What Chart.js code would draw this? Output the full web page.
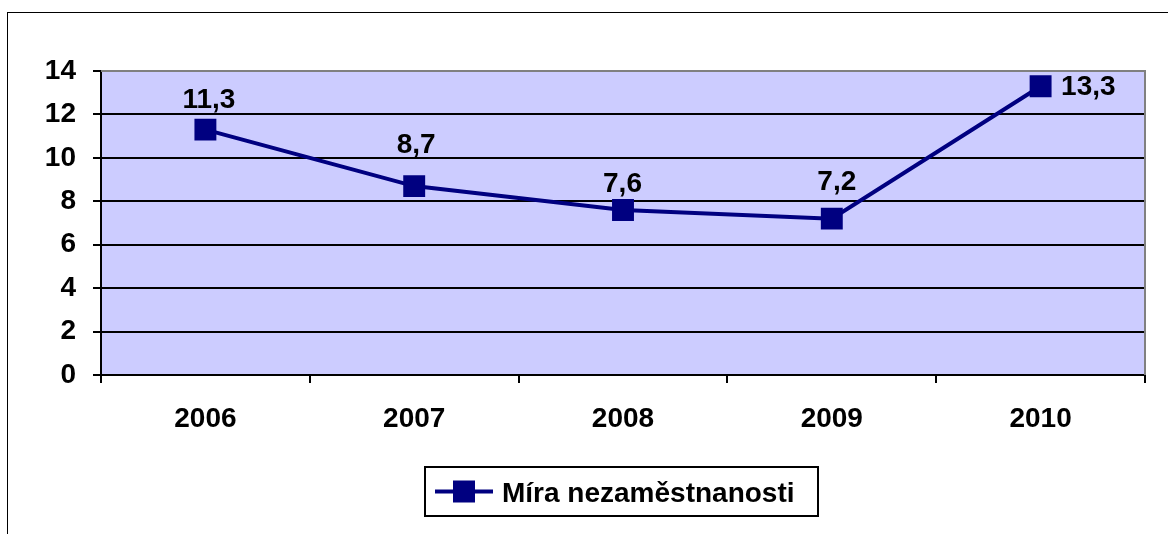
<!DOCTYPE html>
<html>
<head>
<meta charset="utf-8">
<script src="https://cdn.jsdelivr.net/npm/chart.js@4/dist/chart.umd.min.js"></script>
<style>
  html, body { margin: 0; padding: 0; background: #fff; }
  #wrap { width: 1168px; height: 534px; position: relative; }
</style>
</head>
<body>
<div id="wrap"><canvas id="c" width="1168" height="534"></canvas></div>
<script>
// ---- data ----
const categories = ['2006', '2007', '2008', '2009', '2010'];
const seriesName = 'Míra nezaměstnanosti';
const unemploymentRate = [11.3, 8.7, 7.6, 7.2, 13.3];
const valueLabels = ['11,3', '8,7', '7,6', '7,2', '13,3'];

const FONT = '"Liberation Sans", Arial, sans-serif';
const NAVY = '#000080';

const frameAndBackground = {
  id: 'frameAndBackground',
  beforeDraw(chart) {
    const { ctx, chartArea: a } = chart;
    ctx.save();
    ctx.fillStyle = '#ffffff';
    ctx.fillRect(0, 0, chart.width, chart.height);
    ctx.strokeStyle = '#000000';
    ctx.lineWidth = 1;
    ctx.strokeRect(7.5, 12.5, 1300, 700);
    ctx.fillStyle = '#CCCCFF';
    ctx.fillRect(a.left, a.top, a.right - a.left, a.bottom - a.top);
    ctx.restore();
  },
  beforeDatasetsDraw(chart) {
    const { ctx, chartArea: a } = chart;
    ctx.save();
    ctx.strokeStyle = '#808080';
    ctx.lineWidth = 2;
    ctx.beginPath();
    ctx.moveTo(a.left, a.top);
    ctx.lineTo(a.right, a.top);
    ctx.lineTo(a.right, a.bottom);
    ctx.stroke();
    ctx.restore();
  }
};

const valueLabelPlugin = {
  id: 'valueLabels',
  afterDatasetsDraw(chart, args, opts) {
    const { ctx } = chart;
    const meta = chart.getDatasetMeta(0);
    ctx.save();
    ctx.font = 'bold 28px ' + FONT;
    ctx.fillStyle = '#000';
    ctx.textBaseline = 'alphabetic';
    meta.data.forEach((pt, i) => {
      const o = opts.offsets[i];
      ctx.textAlign = o.align;
      ctx.fillText(valueLabels[i], pt.x + o.dx, pt.y + o.dy);
    });
    ctx.restore();
  }
};

const customLegend = {
  id: 'customLegend',
  afterDraw(chart, args, opts) {
    const { ctx } = chart;
    const ds = chart.data.datasets[0];
    const b = opts.box;
    ctx.save();
    ctx.fillStyle = '#fff';
    ctx.fillRect(b.x, b.y, b.w, b.h);
    ctx.strokeStyle = '#000';
    ctx.lineWidth = 2;
    ctx.strokeRect(b.x, b.y, b.w, b.h);
    const cy = b.y + b.h / 2;
    ctx.strokeStyle = ds.borderColor;
    ctx.lineWidth = ds.borderWidth;
    ctx.beginPath();
    ctx.moveTo(b.x + 10, cy);
    ctx.lineTo(b.x + 68, cy);
    ctx.stroke();
    ctx.fillStyle = ds.pointBackgroundColor;
    ctx.fillRect(b.x + 28, cy - 11, 22, 22);
    ctx.fillStyle = '#000';
    ctx.font = 'bold 28px ' + FONT;
    ctx.textAlign = 'left';
    ctx.textBaseline = 'alphabetic';
    ctx.fillText(ds.label, b.x + 77, cy + 10.5);
    ctx.restore();
  }
};

new Chart(document.getElementById('c'), {
  type: 'line',
  data: {
    labels: categories,
    datasets: [{
      label: seriesName,
      data: unemploymentRate,
      borderColor: NAVY,
      backgroundColor: NAVY,
      borderWidth: 4,
      pointStyle: 'rect',
      pointRadius: 15.5,
      pointBorderWidth: 0,
      pointBackgroundColor: NAVY,
      pointBorderColor: NAVY,
      tension: 0,
      fill: false
    }]
  },
  plugins: [frameAndBackground, valueLabelPlugin, customLegend],
  options: {
    responsive: false,
    animation: false,
    devicePixelRatio: 1,
    layout: { padding: { left: 0, top: 71, right: 23, bottom: 99 } },
    plugins: {
      legend: { display: false },
      tooltip: { enabled: false },
      valueLabels: {
        offsets: [
          { dx: 3.5, dy: -21.5, align: 'center' },
          { dx: 2, dy: -33.5, align: 'center' },
          { dx: -0.5, dy: -18, align: 'center' },
          { dx: 5, dy: -29, align: 'center' },
          { dx: 20.5, dy: 9, align: 'left' }
        ]
      },
      customLegend: { box: { x: 425, y: 467, w: 393, h: 49 } }
    },
    scales: {
      x: {
        type: 'category',
        offset: true,
        afterFit(scale) { scale.height = 60; },
        grid: {
          offset: true,
          drawOnChartArea: false,
          drawTicks: true,
          tickLength: 8,
          tickColor: '#000',
          lineWidth: 2
        },
        border: { display: true, color: '#000', width: 2 },
        ticks: {
          color: '#000',
          font: { family: FONT, size: 28, weight: 'bold' },
          padding: 19,
          maxRotation: 0,
          autoSkip: false
        }
      },
      y: {
        min: 0,
        max: 14,
        afterFit(scale) { scale.width = 101; },
        grid: {
          color: (c) => (c.tick && c.tick.value === 14 ? '#808080' : '#000'),
          tickColor: '#000',
          lineWidth: 2,
          drawTicks: true,
          tickLength: 8
        },
        border: { display: true, color: '#000', width: 2 },
        ticks: {
          stepSize: 2,
          color: '#000',
          font: { family: FONT, size: 28, weight: 'bold' },
          padding: 17
        }
      }
    }
  }
});
</script>
</body>
</html>
